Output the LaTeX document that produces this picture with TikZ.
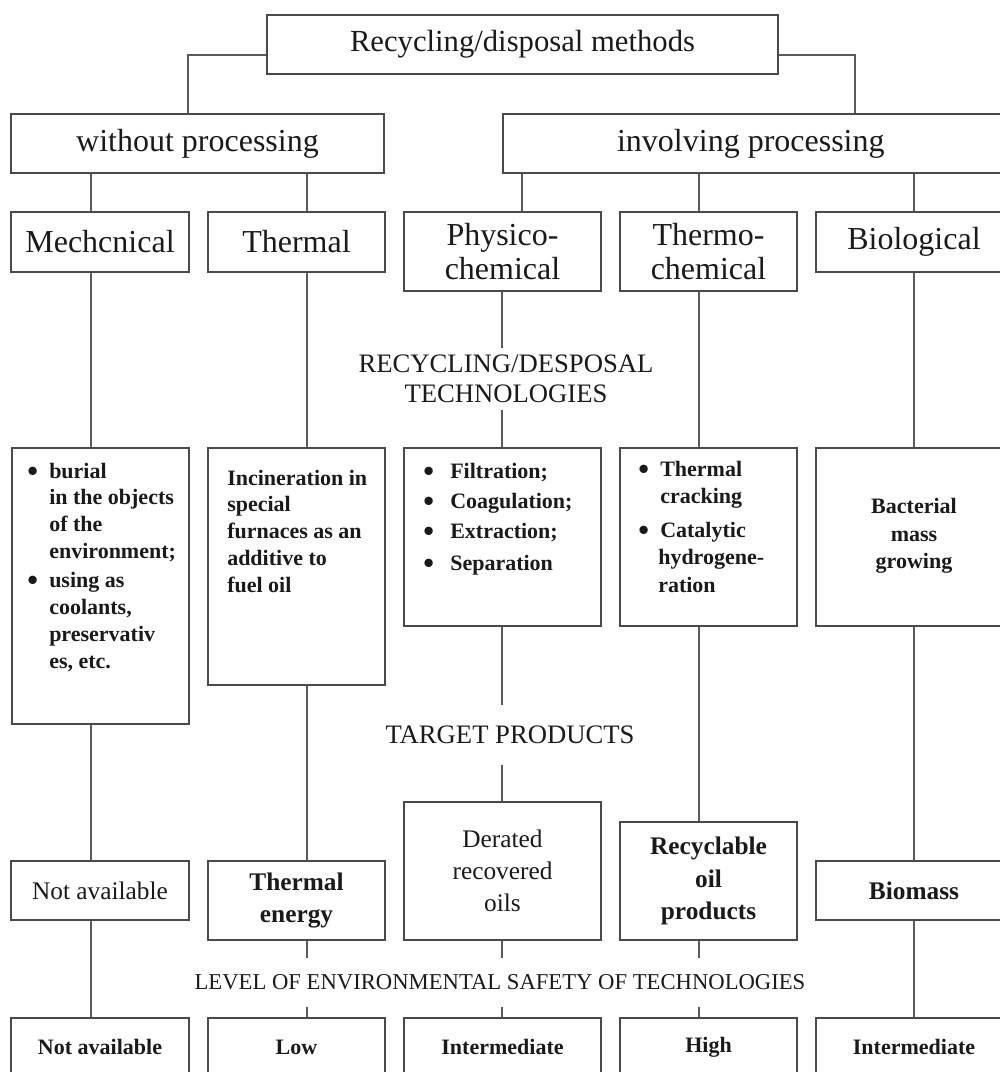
\documentclass[tikz,border=0pt]{standalone}
\usepackage{fontspec}
\setmainfont{Liberation Serif}
\definecolor{linec}{HTML}{5A5A5A}
\definecolor{boxc}{HTML}{4A4A4A}
\definecolor{txtc}{HTML}{1A1A1A}
\newcommand\itembul[1]{\makebox[#1][l]{\raisebox{-2.4pt}{\fontsize{23}{0}\selectfont\textbullet}}}
\begin{document}
\begin{tikzpicture}[x=0.75pt, y=-0.75pt,
  box/.style={draw=boxc, line width=1.1pt, inner sep=0pt, align=center, text=txtc},
  wh/.style 2 args={minimum width=#1*0.75pt, minimum height=#2*0.75pt},
  conn/.style={draw=linec, line width=1.1pt},
  topf/.style={font=\fontsize{23}{26}\selectfont},
  lvlone/.style={font=\fontsize{24}{26}\selectfont},
  lvltwo/.style={font=\fontsize{24}{26}\selectfont},
  inner/.style={inner sep=0pt, text=txtc, anchor=base west},
  lvlfour/.style={font=\fontsize{19}{24}\selectfont},
  lvlfive/.style={font=\bfseries\fontsize{16.5}{20}\selectfont},
  lbl/.style={inner sep=0pt, align=center, text=txtc}
]
\useasboundingbox (0,0) rectangle (1000,1072);

% column coordinates
\coordinate (c0) at (188,0);
\coordinate (c1) at (91,0);
\coordinate (c2) at (307,0);
\coordinate (c3u) at (522,0);
\coordinate (c3) at (502,0);
\coordinate (c4) at (699,0);
\coordinate (c5) at (914,0);
\coordinate (c6) at (855,0);

% top
\node[box, topf, line width=2.2pt, wh={511}{59}] (top) at (522.5,44.5) {Recycling/disposal methods};

% level 1
\node[box, lvlone, wh={373}{59}] (wo) at (197.5,143.5) {without processing};
\node[box, lvlone, wh={509}{59}] (inv) at (757.5,143.5) {\hspace*{-10pt}involving processing};

% level 2
\node[box, lvltwo, wh={178}{60}] (mech2) at (100,242) {Mechcnical};
\node[box, lvltwo, wh={177}{60}] (th2) at (296.5,242) {Thermal};
\node[box, lvltwo, wh={197}{79}, font=\fontsize{24}{26}\selectfont] (ph2) at (502.5,251.5) {Physico-\\chemical};
\node[box, lvltwo, wh={177}{79}, font=\fontsize{24}{26}\selectfont] (tc2) at (708.5,251.5) {Thermo-\\chemical};
\node[box, lvltwo, wh={196}{60}] (bio2) at (914,242) {Biological};

% label technologies
\node[lbl, font=\fontsize{20}{22.5}\selectfont, minimum height=62*0.75pt] (techlbl) at (506,379) {RECYCLING/DESPOSAL\\TECHNOLOGIES};

% level 3 boxes
\node[box, wh={177}{276}] (mech3) at (100.5,586) {};
\node[box, wh={177}{237}] (th3) at (296.5,566.5) {};
\node[box, wh={197}{178}] (ph3) at (502.5,537) {};
\node[box, wh={177}{178}] (tc3) at (708.5,537) {};
\node[box, wh={196}{178}] (bio3) at (914,537) {};

% level 3 texts
\node[inner, font=\bfseries\fontsize{16.5}{20.2}\selectfont] (mechtxt) at (27,478) {\begin{tabular}[t]{@{}l@{}}
\itembul{16.5pt}burial\\
\hspace*{16.5pt}in the objects\\
\hspace*{16.5pt}of the\\
\hspace*{16.5pt}environment;\\[1.5pt]
\itembul{16.5pt}using as\\
\hspace*{16.5pt}coolants,\\
\hspace*{16.5pt}preservativ\\
\hspace*{16.5pt}es, etc.
\end{tabular}};
\node[inner, font=\bfseries\fontsize{16.5}{20.2}\selectfont] (thtxt) at (227,485) {\begin{tabular}[t]{@{}l@{}}
Incineration in\\
special\\
furnaces as an\\
additive to\\
fuel oil
\end{tabular}};
\node[inner, font=\bfseries\fontsize{16.5}{22.5}\selectfont] (phtxt) at (423,478) {\begin{tabular}[t]{@{}l@{}}
\itembul{20.25pt}Filtration;\\
\itembul{20.25pt}Coagulation;\\
\itembul{20.25pt}Extraction;\\[2pt]
\itembul{20.25pt}Separation
\end{tabular}};
\node[inner, font=\bfseries\fontsize{16.5}{20.5}\selectfont] (tctxt) at (638,476) {\begin{tabular}[t]{@{}l@{}}
\itembul{16.5pt}Thermal\\
\hspace*{16.5pt}cracking\\[5pt]
\itembul{16.5pt}Catalytic\\
\hspace*{15pt}hydrogene-\\
\hspace*{15pt}ration
\end{tabular}};
\node[lbl, font=\bfseries\fontsize{16.5}{20.5}\selectfont] (biotxt) at (914,536) {Bacterial\\mass\\growing};

% target label
\node[lbl, font=\fontsize{20}{22.5}\selectfont, minimum height=60*0.75pt] (tgtlbl) at (510,735) {TARGET PRODUCTS};

% level 4
\node[box, lvlfour, wh={178}{59}] (na4) at (100,890.5) {Not available};
\node[box, lvlfour, font=\bfseries\fontsize{19}{24.5}\selectfont, wh={177}{79}] (te4) at (296.5,900.5) {Thermal\\energy};
\node[box, lvlfour, wh={197}{138}] (der4) at (502.5,871) {Derated\\recovered\\oils};
\node[box, lvlfour, font=\bfseries\fontsize{19}{24.5}\selectfont, wh={177}{118}] (rec4) at (708.5,881) {Recyclable\\oil\\products};
\node[box, lvlfour, font=\bfseries\fontsize{19}{24}\selectfont, wh={196}{59}] (bm4) at (914,890.5) {Biomass};

% level label
\node[lbl, font=\fontsize{17}{20}\selectfont, minimum height=49*0.75pt] (lvllbl) at (500,982.5) {LEVEL OF ENVIRONMENTAL SAFETY OF TECHNOLOGIES};

% level 5
\node[box, lvlfive, wh={178}{58}] (na5) at (100,1047) {Not available};
\node[box, lvlfive, wh={177}{58}] (low5) at (296.5,1047) {Low};
\node[box, lvlfive, wh={197}{58}] (int5) at (502.5,1047) {Intermediate};
\node[box, lvlfive, wh={177}{58}] (high5) at (708.5,1047) {High};
\node[box, lvlfive, wh={196}{58}] (int5b) at (914,1047) {Intermediate};

% connectors
\draw[conn] ([yshift=-7.9pt]top.west) -| (wo.north -| c0);
\draw[conn] ([yshift=-7.9pt]top.east) -| (inv.north -| c6);
\draw[conn] (wo.south -| c1) -- (mech2.north -| c1);
\draw[conn] (wo.south -| c2) -- (th2.north -| c2);
\draw[conn] (inv.south -| c3u) -- (ph2.north -| c3u);
\draw[conn] (inv.south -| c4) -- (tc2.north -| c4);
\draw[conn] (inv.south -| c5) -- (bio2.north -| c5);
\draw[conn] (mech2.south -| c1) -- (mech3.north -| c1);
\draw[conn] (th2.south -| c2) -- (th3.north -| c2);
\draw[conn] (ph2.south -| c3) -- (techlbl.north -| c3);
\draw[conn] (techlbl.south -| c3) -- (ph3.north -| c3);
\draw[conn] (tc2.south -| c4) -- (tc3.north -| c4);
\draw[conn] (bio2.south -| c5) -- (bio3.north -| c5);
\draw[conn] (mech3.south -| c1) -- (na4.north -| c1);
\draw[conn] (th3.south -| c2) -- (te4.north -| c2);
\draw[conn] (ph3.south -| c3) -- (tgtlbl.north -| c3);
\draw[conn] (tgtlbl.south -| c3) -- (der4.north -| c3);
\draw[conn] (tc3.south -| c4) -- (rec4.north -| c4);
\draw[conn] (bio3.south -| c5) -- (bm4.north -| c5);
\draw[conn] (na4.south -| c1) -- (na5.north -| c1);
\draw[conn] (te4.south -| c2) -- (lvllbl.north -| c2);
\draw[conn] (lvllbl.south -| c2) -- (low5.north -| c2);
\draw[conn] (der4.south -| c3) -- (lvllbl.north -| c3);
\draw[conn] (lvllbl.south -| c3) -- (int5.north -| c3);
\draw[conn] (rec4.south -| c4) -- (lvllbl.north -| c4);
\draw[conn] (lvllbl.south -| c4) -- (high5.north -| c4);
\draw[conn] (bm4.south -| c5) -- (int5b.north -| c5);
\end{tikzpicture}
\end{document}
